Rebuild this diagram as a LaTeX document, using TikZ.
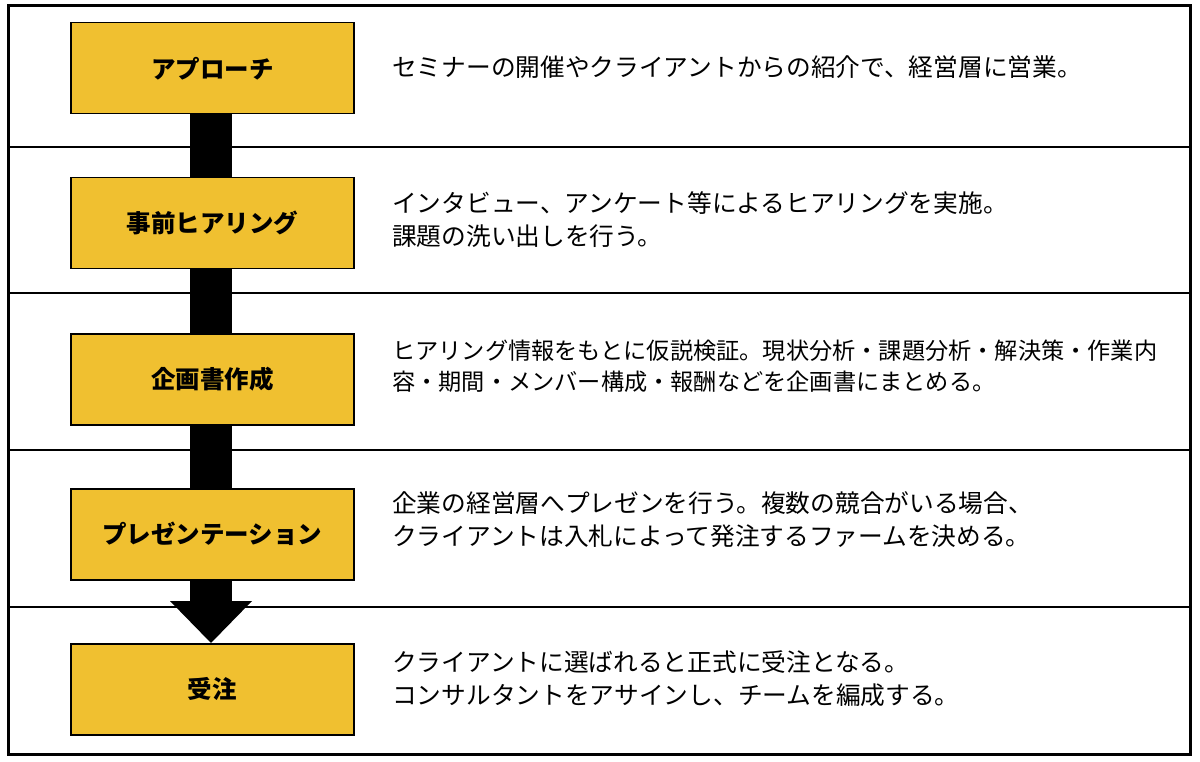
\documentclass[tikz,border=0pt]{standalone}
\usepackage{fontspec}
\setmainfont{Noto Sans CJK JP}
\begin{document}
\begin{tikzpicture}[x=1pt,y=-1pt,
  stepbox/.style={draw=black,line width=1.5pt,fill={rgb,255:red,240;green,192;blue,48},minimum width=283pt,minimum height=91pt,font=\fontsize{24.5}{28}\selectfont\bfseries,anchor=north west,inner sep=0pt},
  desc/.style={anchor=west,align=left,font=\fontsize{24.7}{33}\selectfont,inner sep=0pt},
  frame/.style={line width=3pt}]
\useasboundingbox (0,0) rectangle (1200,762);
\fill[white] (0,0) rectangle (1200,762);
\fill[black] (190,113) rectangle (232,601);
\fill[black] (170,601) -- (252,601) -- (211,643) -- cycle;
\draw[frame] (8,6) rectangle (1190,754);
\foreach \y in {147,293,450,607} \draw[line width=2.5pt] (8,\y) -- (1190,\y);
\node[stepbox] (s1) at (70,22) {アプローチ};
\node[stepbox] (s2) at (70,177) {事前ヒアリング};
\node[stepbox] (s3) at (70,333) {企画書作成};
\node[stepbox] (s4) at (70,488) {プレゼンテーション};
\node[stepbox] (s5) at (70,643) {受注};
\node[desc] (d1) at (392,67) {セミナーの開催やクライアントからの紹介で、経営層に営業。};
\node[desc] (d2) at (392,220) {インタビュー、アンケート等によるヒアリングを実施。\\課題の洗い出しを行う。};
\node[desc,font=\fontsize{23.2}{31}\selectfont] (d3) at (392,366) {ヒアリング情報をもとに仮説検証。現状分析・課題分析・解決策・作業内\\容・期間・メンバー構成・報酬などを企画書にまとめる。};
\node[desc] (d4) at (392,520) {企業の経営層へプレゼンを行う。複数の競合がいる場合、\\クライアントは入札によって発注するファームを決める。};
\node[desc] (d5) at (392,679) {クライアントに選ばれると正式に受注となる。\\コンサルタントをアサインし、チームを編成する。};
\end{tikzpicture}
\end{document}
